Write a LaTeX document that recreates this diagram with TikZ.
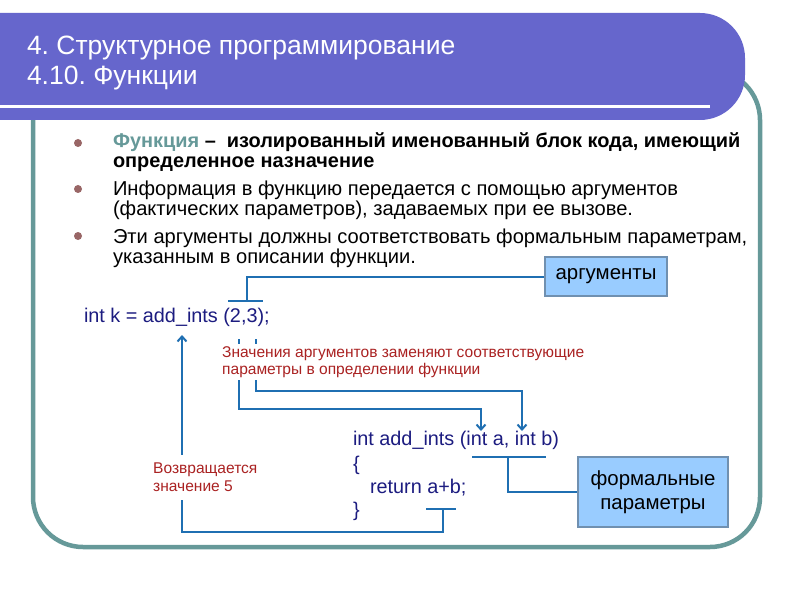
\documentclass[tikz,border=0pt]{standalone}
\usepackage{fontspec}
\setmainfont{Liberation Sans}
\usetikzlibrary{arrows.meta}
\definecolor{banner}{HTML}{6666CC}
\definecolor{framec}{HTML}{669999}
\definecolor{bul}{HTML}{996666}
\definecolor{conn}{HTML}{1F6FB2}
\definecolor{codec}{HTML}{1C1C80}
\definecolor{redt}{HTML}{AA2222}
\definecolor{boxfill}{HTML}{99CCFF}
\definecolor{boxline}{HTML}{7090B0}
\frenchspacing
\begin{document}
\begin{tikzpicture}[x=1bp,y=-1bp,
  txt/.style={anchor=base west, inner sep=0pt, outer sep=0pt},
  titletxt/.style={txt, text=white, font=\fontsize{26.6}{30}\selectfont},
  body/.style={txt, font=\fontsize{20.2}{20}\selectfont},
  bodyb/.style={txt, font=\fontsize{20}{20}\selectfont\bfseries},
  codet/.style={txt, text=codec, font=\fontsize{19.9}{20}\selectfont},
  redtxt/.style={anchor=north west, text=redt, fill=white, inner xsep=1bp, inner ysep=2bp, align=left, font=\fontsize{15.6}{18}\selectfont},
  conline/.style={draw=conn, line width=2bp},
  tipv/.style={-{Straight Barb[length=5bp,width=9bp]}},
  lbox/.style={draw=boxline, line width=1.5bp, fill=boxfill, font=\fontsize{20.5}{24}\selectfont, align=center, inner sep=0pt},
]
\useasboundingbox (0,0) rectangle (800,600);
\fill[white] (0,0) rectangle (800,600);
% frame
\draw[framec, line width=4.5bp, rounded corners=50bp] (33,70) rectangle (760,547);
% banner
\fill[banner, rounded corners=45bp] (-60,13) rectangle (745,120);
\draw[white, line width=3bp] (-5,107) -- (710,107);
\node[titletxt] (t1) at (27,55) {4. Структурное программирование};
\node[titletxt] (t2) at (27,85) {4.10. Функции};
% bullets
\fill[bul] (78,143) circle (4bp);
\fill[bul] (78,189) circle (4bp);
\fill[bul] (78,236) circle (4bp);
\node[bodyb] (l1) at (113,148) {\textcolor{framec}{Функция} – \ изолированный именованный блок кода, имеющий};
\node[bodyb] (l2) at (113,168) {определенное назначение};
\node[body] (l3) at (113,196) {Информация в функцию передается с помощью аргументов};
\node[body] (l4) at (113,216) {(фактических параметров), задаваемых при ее вызове.};
\node[body] (l5) at (113,243) {Эти аргументы должны соответствовать формальным параметрам,};
\node[body] (l6) at (113,263) {указанным в описании функции.};
% boxes
\node[lbox, minimum width=122bp, minimum height=39bp] (arg) at (606,276.5) {аргументы};
\node[lbox, minimum width=150bp, minimum height=70bp] (fp) at (653,492) {формальные\\параметры};
% code
\node[codet] (call) at (84,322) {int k = add\_ints (2,3);};
\node[codet] (def) at (353,445) {int add\_ints (int a, int b)};
\node[codet] (ob) at (353,470) {\{};
\node[codet] (rt) at (370,493) {return a+b;};
\node[codet] (cb) at (353,516) {\}};
% coordinates
\coordinate (ab1) at (228,301);
\coordinate (ab2) at (263,301);
\coordinate (abm) at (247,301);
\coordinate (s2) at (239,339);
\coordinate (s3) at (256,339);
\coordinate (pa) at (481,431);
\coordinate (pb) at (522,431);
\coordinate (fb1) at (472,457);
\coordinate (fb2) at (546,457);
\coordinate (fbm) at (508,457);
\coordinate (rb1) at (426,509);
\coordinate (rb2) at (456,509);
\coordinate (rbm) at (443,509);
\coordinate (rtip) at (182,335);
% connectors
\draw[conline] (ab1) -- (ab2);
\draw[conline] (abm) |- (arg.west);
\draw[conline, tipv] (s2) -- ++(0,70) -| (pa);
\draw[conline, tipv] (s3) -- ++(0,52) -| (pb);
\draw[conline] (fb1) -- (fb2);
\draw[conline] (fbm) |- (fp.west);
\draw[conline] (rb1) -- (rb2);
\draw[conline, tipv] (rbm) -- ++(0,23) -| (rtip);
% red texts
\node[redtxt] (repl) at (221,344) {Значения аргументов заменяют соответствующие\\параметры в определении функции};
\node[redtxt, inner ysep=8bp] (retv) at (152,455) {Возвращается\\значение 5};
\end{tikzpicture}
\end{document}
